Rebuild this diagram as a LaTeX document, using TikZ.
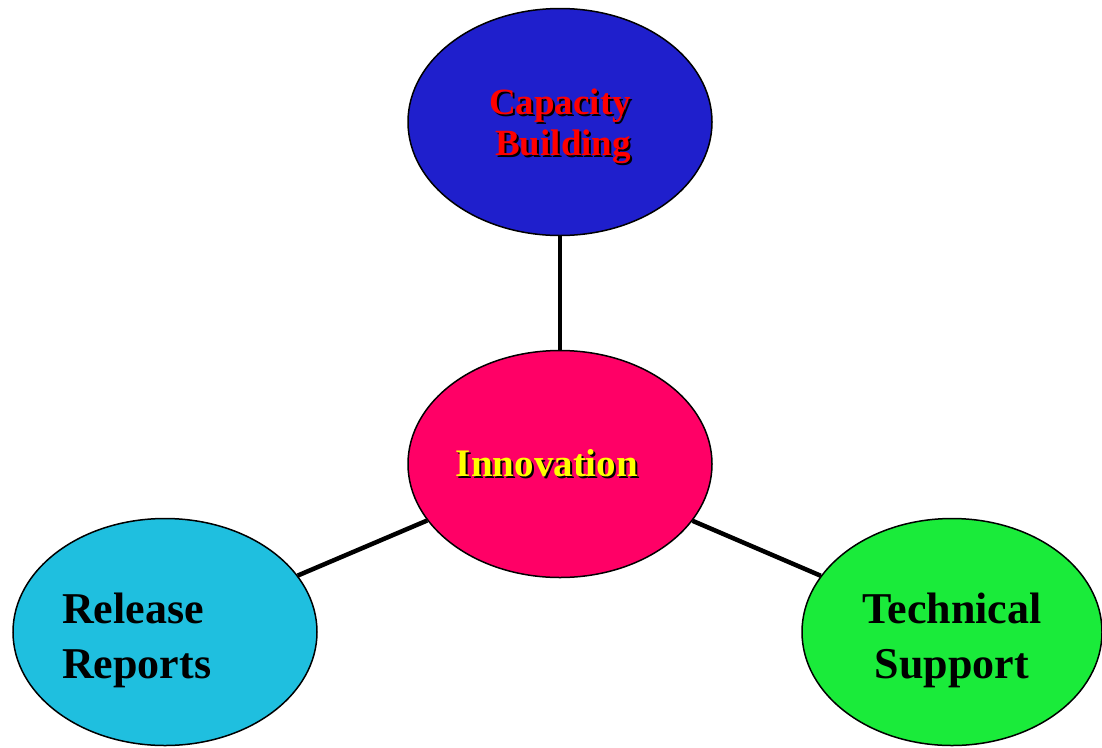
\documentclass[tikz,border=0pt]{standalone}
\usepackage{fontspec}
\setmainfont{Liberation Serif}
\usepackage{xcolor}
\usetikzlibrary{positioning}
\usetikzlibrary{shapes.geometric}
\definecolor{capblue}{RGB}{31,31,204}
\definecolor{innopink}{RGB}{255,0,102}
\definecolor{relcyan}{RGB}{31,191,223}
\definecolor{techgreen}{RGB}{26,235,58}
\definecolor{innoyellow}{RGB}{255,255,0}
\tikzset {
  % oval boxes
  blob/.style = {draw, ellipse, line width=1.5pt, minimum width=304pt, minimum height=227pt, inner sep=0pt},
  % spokes from the middle
  spoke/.style = {line width=4.5pt},
  big/.style = {font=\bfseries\fontsize{44}{55}\selectfont},
}
% text with a black shadow
\newcommand{\shd}[2]{%
\makebox[0pt][l]{\hspace{2pt}\raisebox{-2pt}{\color{black}#2}}{\color{#1}#2}}

\begin{document}
\begin{tikzpicture}[x=1pt, y=-1pt]
        \useasboundingbox (0,0) rectangle (1102,747);
        \node[blob, fill=innopink] (inno) at (560,464) {};
        \node[blob, fill=capblue] (cap) at (560,122) {};
        \node[blob, fill=relcyan] (rel) at (165,632) {};
        \node[blob, fill=techgreen, minimum width=300pt] (tech) at (952,632) {};

        \draw [spoke] (inno) -- (cap);
        \draw [spoke] (inno) -- (rel);
        \draw [spoke] (inno) -- (tech);

        \node[font=\bfseries\fontsize{37}{41}\selectfont, align=center] (captxt) at ([yshift=-5pt]cap.center) {\shd{red}{Capacity}\\\shd{red}{\,Building}};
        \node[font=\bfseries\fontsize{39}{42}\selectfont] (innotxt) at ([xshift=-13pt]inno.center) {\shd{innoyellow}{Innovation}};
        \node[big, align=left, anchor=west, inner sep=0pt] (reltxt) at ([xshift=-103pt, yshift=-8pt]rel.center) {Release\\Reports};
        \node[big, align=center] (techtxt) at ([yshift=-8pt]tech.center) {Technical\\Support};
      \end{tikzpicture}
\end{document}
